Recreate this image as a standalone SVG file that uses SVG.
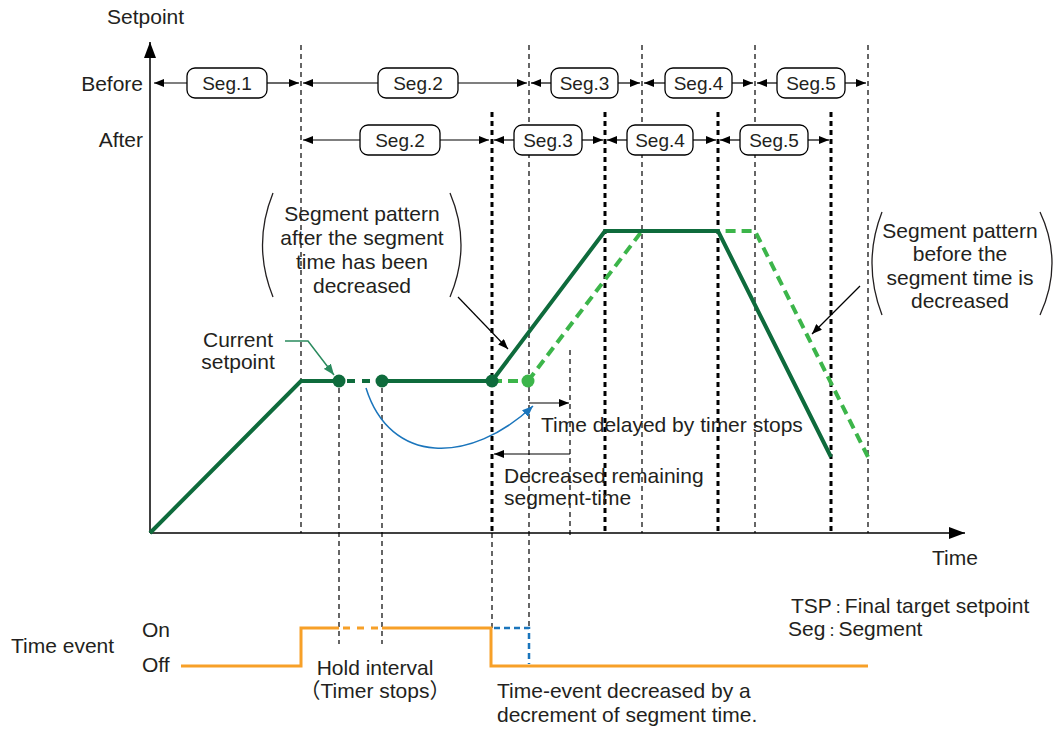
<svg xmlns="http://www.w3.org/2000/svg" width="1056" height="731" viewBox="0 0 1056 731">
<style>
text{font-family:"Liberation Sans",Arial,sans-serif;font-size:21px;fill:#231f20}
.seg{font-size:19px;text-anchor:middle}
.mid{text-anchor:middle}
.end{text-anchor:end}
.cjk{font-family:"Noto Sans CJK JP",sans-serif}
.colon{font-family:"Noto Sans CJK JP",sans-serif;font-size:13px}
.thin{stroke:#000;stroke-width:1.2;stroke-dasharray:5 4;fill:none}
.thick{stroke:#000;stroke-width:3;stroke-dasharray:5 4;fill:none}
.dim{stroke:#000;stroke-width:1.2;fill:none}
.pill{fill:#fff;stroke:#000;stroke-width:1.3}
.dg{stroke:#0e6b3c;stroke-width:4;fill:none;stroke-linejoin:miter}
.lg{stroke:#3cb54a;stroke-width:4;fill:none;stroke-dasharray:10 6}
.or{stroke:#f7a028;stroke-width:3;fill:none}
.paren{stroke:#231f20;stroke-width:1.3;fill:none}
</style>
<defs>
<marker id="ah" viewBox="0 0 10 8" refX="10" refY="4" markerWidth="10" markerHeight="8" markerUnits="userSpaceOnUse" orient="auto-start-reverse"><path d="M0,0 L10,4 L0,8 Z" fill="#000"/></marker>
<marker id="ahb" viewBox="0 0 10 8" refX="10" refY="4" markerWidth="11" markerHeight="9" markerUnits="userSpaceOnUse" orient="auto"><path d="M0,0 L10,4 L0,8 Z" fill="#1a75bc"/></marker>
<marker id="ahg" viewBox="0 0 10 8" refX="10" refY="4" markerWidth="11" markerHeight="9" markerUnits="userSpaceOnUse" orient="auto"><path d="M0,0 L10,4 L0,8 Z" fill="#2a8a5e"/></marker>
<marker id="axh" viewBox="0 0 16 12" refX="16" refY="6" markerWidth="16" markerHeight="12" markerUnits="userSpaceOnUse" orient="auto"><path d="M0,0 L16,6 L0,12 Z" fill="#000"/></marker>
</defs>

<g id="axes">
<line x1="150" y1="533" x2="150" y2="42" stroke="#000" stroke-width="1.5" marker-end="url(#axh)"/>
<line x1="150" y1="533" x2="965" y2="533" stroke="#000" stroke-width="1.5" marker-end="url(#axh)"/>
<text x="107" y="24">Setpoint</text>
<text x="932" y="565">Time</text>
<text class="end" x="143" y="91">Before</text>
<text class="end" x="143" y="147">After</text>
</g>

<g id="gridlines">
<line class="thin" x1="301" y1="45" x2="301" y2="533"/>
<line class="thin" x1="529" y1="45" x2="529" y2="628"/>
<line class="thin" x1="642" y1="45" x2="642" y2="533"/>
<line class="thin" x1="755" y1="45" x2="755" y2="533"/>
<line class="thin" x1="868" y1="45" x2="868" y2="533"/>
<line class="thick" x1="492" y1="112" x2="492" y2="533"/>
<line class="thin" x1="492" y1="533" x2="492" y2="628"/>
<line class="thick" x1="605" y1="112" x2="605" y2="533"/>
<line class="thick" x1="718" y1="112" x2="718" y2="533"/>
<line class="thick" x1="831" y1="112" x2="831" y2="533"/>
<line class="thin" x1="339" y1="388" x2="339" y2="644"/>
<line class="thin" x1="382" y1="388" x2="382" y2="644"/>
<line class="thin" x1="570" y1="350" x2="570" y2="538"/>
</g>

<g id="connectors">
<line class="dim" x1="187" y1="83" x2="154" y2="83" marker-end="url(#ah)"/>
<line class="dim" x1="267" y1="83" x2="299" y2="83" marker-end="url(#ah)"/>
<line class="dim" x1="378" y1="83" x2="303" y2="83" marker-end="url(#ah)"/>
<line class="dim" x1="458" y1="83" x2="527" y2="83" marker-end="url(#ah)"/>
<line class="dim" x1="551" y1="83" x2="531" y2="83" marker-end="url(#ah)"/>
<line class="dim" x1="618" y1="83" x2="640" y2="83" marker-end="url(#ah)"/>
<line class="dim" x1="665" y1="83" x2="644" y2="83" marker-end="url(#ah)"/>
<line class="dim" x1="732" y1="83" x2="753" y2="83" marker-end="url(#ah)"/>
<line class="dim" x1="777" y1="83" x2="757" y2="83" marker-end="url(#ah)"/>
<line class="dim" x1="845" y1="83" x2="866" y2="83" marker-end="url(#ah)"/>
<line class="dim" x1="360" y1="140" x2="303" y2="140" marker-end="url(#ah)"/>
<line class="dim" x1="440" y1="140" x2="489" y2="140" marker-end="url(#ah)"/>
<line class="dim" x1="514" y1="140" x2="494" y2="140" marker-end="url(#ah)"/>
<line class="dim" x1="582" y1="140" x2="603" y2="140" marker-end="url(#ah)"/>
<line class="dim" x1="627" y1="140" x2="607" y2="140" marker-end="url(#ah)"/>
<line class="dim" x1="693" y1="140" x2="716" y2="140" marker-end="url(#ah)"/>
<line class="dim" x1="740" y1="140" x2="720" y2="140" marker-end="url(#ah)"/>
<line class="dim" x1="808" y1="140" x2="829" y2="140" marker-end="url(#ah)"/>
<line class="dim" x1="529" y1="403" x2="569" y2="403" marker-end="url(#ah)"/>
<line class="dim" x1="570" y1="454" x2="494" y2="454" marker-end="url(#ah)"/>
<line class="dim" x1="458" y1="297" x2="508" y2="349" marker-end="url(#ah)"/>
<line class="dim" x1="860" y1="286" x2="812" y2="334" marker-end="url(#ah)"/>
<polyline points="285,341 308,341 334,375" fill="none" stroke="#2a8a5e" stroke-width="1.5" marker-end="url(#ahg)"/>
<path d="M366,388 C390,465 470,465 533,406" fill="none" stroke="#1a75bc" stroke-width="1.5" marker-end="url(#ahb)"/>
</g>

<g id="seg-labels">
<rect class="pill" x="187" y="68" width="80" height="30" rx="8"/><text class="seg" x="227" y="90">Seg.1</text>
<rect class="pill" x="378" y="68" width="80" height="30" rx="8"/><text class="seg" x="418" y="90">Seg.2</text>
<rect class="pill" x="551" y="68" width="67" height="30" rx="8"/><text class="seg" x="584.5" y="90">Seg.3</text>
<rect class="pill" x="665" y="68" width="67" height="30" rx="8"/><text class="seg" x="698.5" y="90">Seg.4</text>
<rect class="pill" x="777" y="68" width="68" height="30" rx="8"/><text class="seg" x="811" y="90">Seg.5</text>
<rect class="pill" x="360" y="125" width="80" height="30" rx="8"/><text class="seg" x="400" y="147">Seg.2</text>
<rect class="pill" x="514" y="125" width="68" height="30" rx="8"/><text class="seg" x="548" y="147">Seg.3</text>
<rect class="pill" x="627" y="125" width="66" height="30" rx="8"/><text class="seg" x="660" y="147">Seg.4</text>
<rect class="pill" x="740" y="125" width="68" height="30" rx="8"/><text class="seg" x="774" y="147">Seg.5</text>
</g>

<g id="pattern-before">
<line class="lg" x1="492" y1="381" x2="528" y2="381"/>
<polyline class="lg" points="528,381 642,231 755,231 868,457"/>
</g>

<g id="pattern-after">
<polyline class="dg" points="150,533 301,381 339,381"/>
<line x1="339" y1="381" x2="382" y2="381" stroke="#0e6b3c" stroke-width="4" stroke-dasharray="8 7" stroke-dashoffset="-8"/>
<polyline class="dg" points="382,381 492,381 605,231 718,231 831,457"/>
<circle cx="339" cy="381" r="6.5" fill="#0e6b3c"/>
<circle cx="382" cy="381" r="6.5" fill="#0e6b3c"/>
<circle cx="492" cy="381" r="6.5" fill="#0e6b3c"/>
<circle cx="528" cy="381" r="6.5" fill="#3cb54a"/>
</g>

<g id="callout-after">
<path class="paren" d="M273,193 Q252,245 273,297"/>
<path class="paren" d="M450,193 Q472,245 450,297"/>
<text class="mid" x="362" y="221">Segment pattern</text>
<text class="mid" x="362" y="245">after the segment</text>
<text class="mid" x="362" y="269">time has been</text>
<text class="mid" x="362" y="293">decreased</text>
</g>

<g id="callout-before">
<path class="paren" d="M882,212 Q862,263 882,315"/>
<path class="paren" d="M1040,212 Q1064,263 1040,315"/>
<text class="mid" x="960" y="238">Segment pattern</text>
<text class="mid" x="960" y="261">before the</text>
<text class="mid" x="960" y="285">segment time is</text>
<text class="mid" x="960" y="308">decreased</text>
</g>

<g id="labels">
<text class="mid" x="238" y="347">Current</text>
<text class="mid" x="238" y="369">setpoint</text>
<text x="541" y="432">Time delayed by timer stops</text>
<text x="504" y="483">Decreased remaining</text>
<text x="504" y="505">segment-time</text>
<text x="791" y="613">TSP<tspan class="colon">：</tspan>Final target setpoint</text>
<text x="788" y="636">Seg<tspan class="colon">：</tspan>Segment</text>
</g>

<g id="time-event">
<text x="11" y="653">Time event</text>
<text x="142" y="637">On</text>
<text x="142" y="672">Off</text>
<polyline class="or" points="181,666 301,666 301,628 339,628"/>
<line x1="339" y1="628" x2="382" y2="628" stroke="#f7a028" stroke-width="3" stroke-dasharray="7 7" stroke-dashoffset="-4"/>
<polyline class="or" points="382,628 491,628 491,666 868,666"/>
<polyline points="494,628 529,628 529,664" fill="none" stroke="#1a75bc" stroke-width="2.5" stroke-dasharray="6 4"/>
<text class="mid" x="375" y="675">Hold interval</text>
<text class="mid" x="375" y="698"><tspan class="cjk">（</tspan>Timer stops<tspan class="cjk">）</tspan></text>
<text x="497" y="698">Time-event decreased by a</text>
<text x="497" y="722">decrement of segment time.</text>
</g>
</svg>
